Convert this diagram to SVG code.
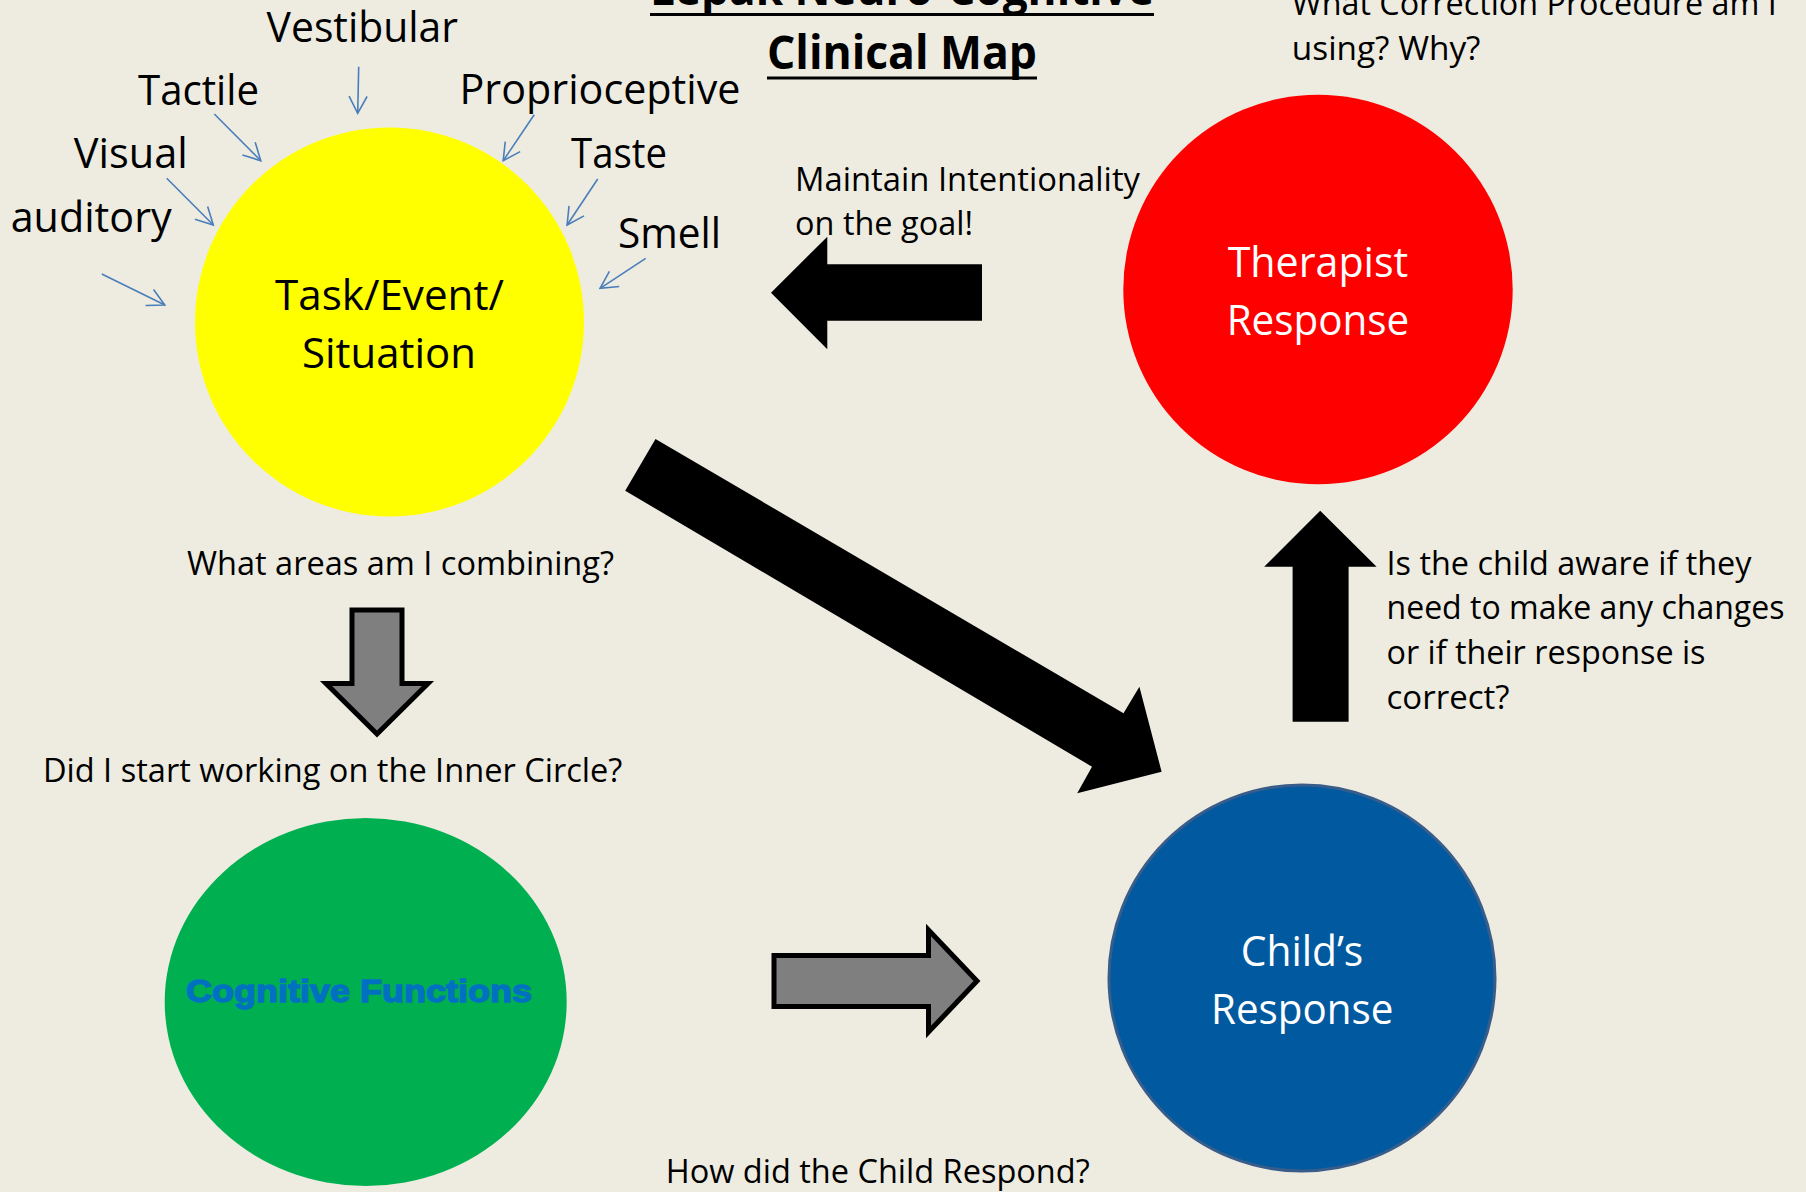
<svg xmlns="http://www.w3.org/2000/svg" width="1806" height="1192" viewBox="0 0 1806 1192">
  <style>
    .t { font-family: 'Open Sans', 'Liberation Sans', sans-serif; fill: #000; }
    .sense { font-size: 41.5px; }
    .lbl { font-size: 42.3px; }
    .q { font-size: 33px; }
    .w { fill: #fff; }
    .title { font-size: 47px; font-weight: bold; }
    .cog { font-family: 'Liberation Sans', Arial, sans-serif; font-weight: 900; font-size: 31px; fill: #0070C0; stroke: #0070C0; stroke-width: 1.4px; }
    .thin { stroke: #4A7EBB; stroke-width: 1.6; fill: none; }
    .gray { fill: #7F7F7F; stroke: #000; stroke-width: 5; stroke-linejoin: miter; }
  </style>
  <defs>
    <marker id="open" viewBox="-20 -12 22 24" refX="0" refY="0" markerWidth="22" markerHeight="24" markerUnits="userSpaceOnUse" orient="auto">
      <path d="M -17 -9 L 0 0 L -17 9" fill="none" stroke="#4A7EBB" stroke-width="1.6"/>
    </marker>
  </defs>

  <rect width="1806" height="1192" fill="#EEECE1"/>

  <!-- title -->
  <g id="title">
    <text class="t title" x="650" y="4.5" textLength="504" lengthAdjust="spacingAndGlyphs">Lepak Neuro-Cognitive</text>
    <rect x="650" y="13" width="504" height="3" fill="#000"/>
    <text class="t title" x="767" y="68.5" textLength="270" lengthAdjust="spacingAndGlyphs">Clinical Map</text>
    <rect x="767" y="76.5" width="270" height="3" fill="#000"/>
  </g>

  <!-- sensory inputs -->
  <g id="senses">
    <text class="t sense" x="266.6" y="41.5" textLength="191.4" lengthAdjust="spacingAndGlyphs">Vestibular</text>
    <text class="t sense" x="138" y="104.5" textLength="121" lengthAdjust="spacingAndGlyphs">Tactile</text>
    <text class="t sense" x="459.5" y="104" textLength="281" lengthAdjust="spacingAndGlyphs">Proprioceptive</text>
    <text class="t sense" x="73.7" y="168" textLength="114" lengthAdjust="spacingAndGlyphs">Visual</text>
    <text class="t sense" x="571" y="167.7" textLength="96" lengthAdjust="spacingAndGlyphs">Taste</text>
    <text class="t sense" x="10.7" y="232" textLength="161" lengthAdjust="spacingAndGlyphs">auditory</text>
    <text class="t sense" x="618" y="248" textLength="103" lengthAdjust="spacingAndGlyphs">Smell</text>
  </g>

  <!-- nodes -->
  <g id="task">
    <circle cx="389.5" cy="322" r="194.5" fill="#FFFF00"/>
    <text class="t lbl" x="275" y="309.5" textLength="229" lengthAdjust="spacingAndGlyphs">Task/Event/</text>
    <text class="t lbl" x="302" y="367.5" textLength="174" lengthAdjust="spacingAndGlyphs">Situation</text>
  </g>
  <g id="therapist">
    <circle cx="1318" cy="289.5" r="194.7" fill="#FF0000"/>
    <text class="t lbl w" x="1227.7" y="276.7" textLength="180.6" lengthAdjust="spacingAndGlyphs">Therapist</text>
    <text class="t lbl w" x="1226.7" y="335" textLength="182.6" lengthAdjust="spacingAndGlyphs">Response</text>
  </g>
  <g id="child">
    <circle cx="1302" cy="978" r="193" fill="#015AA0" stroke="#385D8A" stroke-width="3"/>
    <text class="t lbl w" x="1240.7" y="965.5" textLength="122.6" lengthAdjust="spacingAndGlyphs">Child’s</text>
    <text class="t lbl w" x="1211" y="1023.5" textLength="182.3" lengthAdjust="spacingAndGlyphs">Response</text>
  </g>
  <g id="cognitive">
    <ellipse cx="365.7" cy="1002" rx="201" ry="184" fill="#00B050"/>
    <text class="cog" x="186" y="1001.7" textLength="346" lengthAdjust="spacingAndGlyphs">Cognitive Functions</text>
  </g>

  <!-- prompts -->
  <g id="prompts">
    <text class="t q" x="1291.8" y="15" textLength="485" lengthAdjust="spacingAndGlyphs">What Correction Procedure am I</text>
    <text class="t q" x="1291.8" y="59.5" textLength="188.7" lengthAdjust="spacingAndGlyphs">using? Why?</text>
    <text class="t q" x="795" y="190.7" textLength="345" lengthAdjust="spacingAndGlyphs">Maintain Intentionality</text>
    <text class="t q" x="795" y="234.5" textLength="178" lengthAdjust="spacingAndGlyphs">on the goal!</text>
    <text class="t q" x="187" y="575" textLength="427" lengthAdjust="spacingAndGlyphs">What areas am I combining?</text>
    <text class="t q" x="42.9" y="782" textLength="579.5" lengthAdjust="spacingAndGlyphs">Did I start working on the Inner Circle?</text>
    <text class="t q" x="1386.5" y="575" textLength="365" lengthAdjust="spacingAndGlyphs">Is the child aware if they</text>
    <text class="t q" x="1386.5" y="619" textLength="398" lengthAdjust="spacingAndGlyphs">need to make any changes</text>
    <text class="t q" x="1386.5" y="664" textLength="319" lengthAdjust="spacingAndGlyphs">or if their response is</text>
    <text class="t q" x="1386.5" y="709" textLength="123" lengthAdjust="spacingAndGlyphs">correct?</text>
    <text class="t q" x="665.7" y="1183" textLength="424" lengthAdjust="spacingAndGlyphs">How did the Child Respond?</text>
  </g>

  <!-- connectors -->
  <g id="connectors">
    <g id="sense-arrows" class="thin" marker-end="url(#open)">
      <line x1="358.7" y1="66.7" x2="357.7" y2="113.3"/>
      <line x1="214.3" y1="114" x2="260.8" y2="160.7"/>
      <line x1="534.2" y1="114.7" x2="503.2" y2="160.7"/>
      <line x1="166.7" y1="178.3" x2="213.3" y2="225"/>
      <line x1="597.7" y1="179" x2="567.1" y2="225"/>
      <line x1="101.8" y1="274" x2="164.8" y2="305"/>
      <line x1="645.7" y1="258.3" x2="600.1" y2="288.3"/>
    </g>
    <polygon id="task-to-child" fill="#000" points="655.5,439 1123.5,713.3 1139.4,686.7 1161.6,771.7 1077.2,793.3 1092,766.7 625.2,490.7"/>
    <polygon id="therapist-to-task" fill="#000" points="771,292.7 827.3,236.7 827.3,264.3 982,264.3 982,320.7 827.3,320.7 827.3,349.3"/>
    <polygon id="child-to-therapist" fill="#000" points="1320.2,510.7 1376.6,566.7 1348.6,566.7 1348.6,721.7 1292.6,721.7 1292.6,566.7 1264.2,566.7"/>
    <polygon id="task-to-cognitive" class="gray" points="352,610 402,610 402,683.5 428,683.5 377,734 326,683.5 352,683.5"/>
    <polygon id="cognitive-to-child" class="gray" points="774,955.5 928.5,955.5 928.5,930 977,981 928.5,1032 928.5,1006.5 774,1006.5"/>
  </g>
</svg>
